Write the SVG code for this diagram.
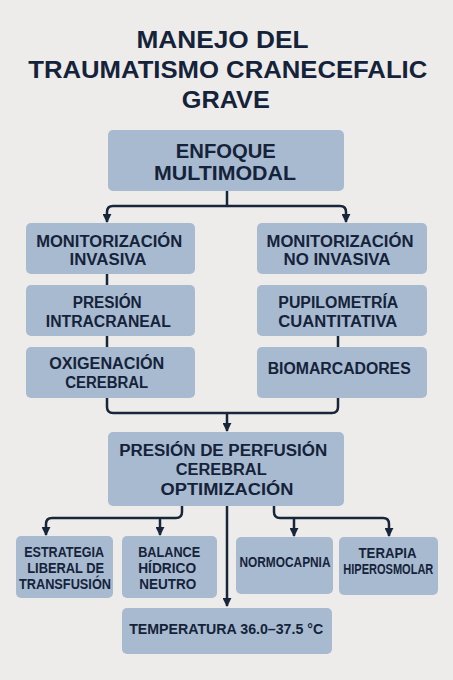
<svg xmlns="http://www.w3.org/2000/svg" width="453" height="680" viewBox="0 0 453 680">
<defs>
<marker id="ah" viewBox="0 0 10 10" refX="9" refY="5" markerWidth="9" markerHeight="9" markerUnits="userSpaceOnUse" orient="auto">
<path d="M0,0 L10,5 L0,10 z" fill="#18263b"/>
</marker>
<style>
.bg{fill:#edecea}
.box{fill:#a8bad0}
.t{font-family:"Liberation Sans","Arial",sans-serif;font-weight:bold;fill:#15233a;text-anchor:middle}
.title{font-size:24px}
.h1{font-size:19.5px}
.m{font-size:16px}
.p{font-size:16.8px}
.s{font-size:14px}
.c{fill:none;stroke:#18263b;stroke-width:2.5;stroke-linecap:butt;stroke-linejoin:round}
</style>
</defs>
<rect class="bg" x="0" y="0" width="453" height="680"/>
<g id="title">
<text class="t title" x="222.5" y="48" textLength="172" lengthAdjust="spacingAndGlyphs">MANEJO DEL</text>
<text class="t title" x="227.8" y="78" textLength="399" lengthAdjust="spacingAndGlyphs">TRAUMATISMO CRANECEFALIC</text>
<text class="t title" x="225.8" y="108" textLength="88" lengthAdjust="spacingAndGlyphs">GRAVE</text>
</g>
<g id="connectors">
<path class="c" d="M227,191 V206 H113 Q107,206 107,212 V222" marker-end="url(#ah)"/>
<path class="c" d="M227,206 H340 Q346,206 346,212 V222" marker-end="url(#ah)"/>
<path class="c" d="M107,274 V285 M107,336 V347 M338,336 V347"/>
<path class="c" d="M107,398 V407 Q107,413 113,413 H332 Q338,413 338,407 V398"/>
<path class="c" d="M227,413 V431" marker-end="url(#ah)"/>
<path class="c" d="M182,506 V512 Q182,518 176,518 H52 Q46,518 46,524 V535" marker-end="url(#ah)"/>
<path class="c" d="M160,518 V535" marker-end="url(#ah)"/>
<path class="c" d="M274,506 V512 Q274,518 280,518 H383 Q389,518 389,524 V536" marker-end="url(#ah)"/>
<path class="c" d="M294,518 V536" marker-end="url(#ah)"/>
<path class="c" d="M227,506 V606" marker-end="url(#ah)"/>
</g>
<g id="enfoque">
<rect class="box" x="108" y="130" width="236" height="61" rx="5"/>
<text class="t h1" x="225.8" y="158" textLength="100" lengthAdjust="spacingAndGlyphs">ENFOQUE</text>
<text class="t h1" x="225" y="180" textLength="142" lengthAdjust="spacingAndGlyphs">MULTIMODAL</text>
</g>
<g id="mon-invasiva">
<rect class="box" x="26" y="223" width="169" height="51" rx="5"/>
<text class="t m" x="109.2" y="247" textLength="146" lengthAdjust="spacingAndGlyphs">MONITORIZACIÓN</text>
<text class="t m" x="108" y="265" textLength="77" lengthAdjust="spacingAndGlyphs">INVASIVA</text>
</g>
<g id="pic">
<rect class="box" x="26" y="285" width="169" height="51" rx="5"/>
<text class="t m" x="107.2" y="308" textLength="69" lengthAdjust="spacingAndGlyphs">PRESIÓN</text>
<text class="t m" x="108.3" y="327" textLength="125" lengthAdjust="spacingAndGlyphs">INTRACRANEAL</text>
</g>
<g id="oxigenacion">
<rect class="box" x="26" y="347" width="169" height="51" rx="5"/>
<text class="t m" x="106.7" y="369" textLength="115" lengthAdjust="spacingAndGlyphs">OXIGENACIÓN</text>
<text class="t m" x="106.7" y="388" textLength="83" lengthAdjust="spacingAndGlyphs">CEREBRAL</text>
</g>
<g id="mon-no-invasiva">
<rect class="box" x="257" y="223" width="170" height="51" rx="5"/>
<text class="t m" x="340" y="247" textLength="147" lengthAdjust="spacingAndGlyphs">MONITORIZACIÓN</text>
<text class="t m" x="337" y="265" textLength="107" lengthAdjust="spacingAndGlyphs">NO INVASIVA</text>
</g>
<g id="pupilometria">
<rect class="box" x="257" y="285" width="170" height="51" rx="5"/>
<text class="t m" x="338.3" y="308" textLength="120" lengthAdjust="spacingAndGlyphs">PUPILOMETRÍA</text>
<text class="t m" x="337.8" y="327" textLength="119" lengthAdjust="spacingAndGlyphs">CUANTITATIVA</text>
</g>
<g id="biomarcadores">
<rect class="box" x="257" y="347" width="170" height="51" rx="5"/>
<text class="t m" x="339.2" y="374" textLength="143" lengthAdjust="spacingAndGlyphs">BIOMARCADORES</text>
</g>
<g id="ppc">
<rect class="box" x="108" y="432" width="236" height="74" rx="5"/>
<text class="t p" x="223.2" y="456" textLength="208" lengthAdjust="spacingAndGlyphs">PRESIÓN DE PERFUSIÓN</text>
<text class="t p" x="221.2" y="475" textLength="91" lengthAdjust="spacingAndGlyphs">CEREBRAL</text>
<text class="t p" x="227" y="495" textLength="133" lengthAdjust="spacingAndGlyphs">OPTIMIZACIÓN</text>
</g>
<g id="estrategia">
<rect class="box" x="16" y="536" width="97" height="62" rx="5"/>
<text class="t s" x="64.2" y="557" textLength="80" lengthAdjust="spacingAndGlyphs">ESTRATEGIA</text>
<text class="t s" x="65.7" y="573" textLength="77" lengthAdjust="spacingAndGlyphs">LIBERAL DE</text>
<text class="t s" x="65" y="589" font-size="13.5" textLength="92" lengthAdjust="spacingAndGlyphs">TRANSFUSIÓN</text>
</g>
<g id="balance">
<rect class="box" x="122" y="536" width="95" height="62" rx="5"/>
<text class="t s" x="169.2" y="557" textLength="62" lengthAdjust="spacingAndGlyphs">BALANCE</text>
<text class="t s" x="167.2" y="573" textLength="58" lengthAdjust="spacingAndGlyphs">HÍDRICO</text>
<text class="t s" x="167.7" y="589" textLength="57" lengthAdjust="spacingAndGlyphs">NEUTRO</text>
</g>
<g id="normocapnia">
<rect class="box" x="236" y="537" width="97" height="57" rx="5"/>
<text class="t s" x="285" y="567" font-size="13" textLength="91" lengthAdjust="spacingAndGlyphs">NORMOCAPNIA</text>
</g>
<g id="terapia">
<rect class="box" x="339" y="537" width="99" height="58" rx="5"/>
<text class="t s" x="387.5" y="558" font-size="13.5" textLength="58" lengthAdjust="spacingAndGlyphs">TERAPIA</text>
<text class="t s" x="388.3" y="574" font-size="11" textLength="90" lengthAdjust="spacingAndGlyphs">HIPEROSMOLAR</text>
</g>
<g id="temperatura">
<rect class="box" x="122" y="608" width="210" height="46" rx="5"/>
<text class="t" x="226.2" y="634" font-size="15" textLength="194" lengthAdjust="spacingAndGlyphs">TEMPERATURA 36.0–37.5 °C</text>
</g>
</svg>
